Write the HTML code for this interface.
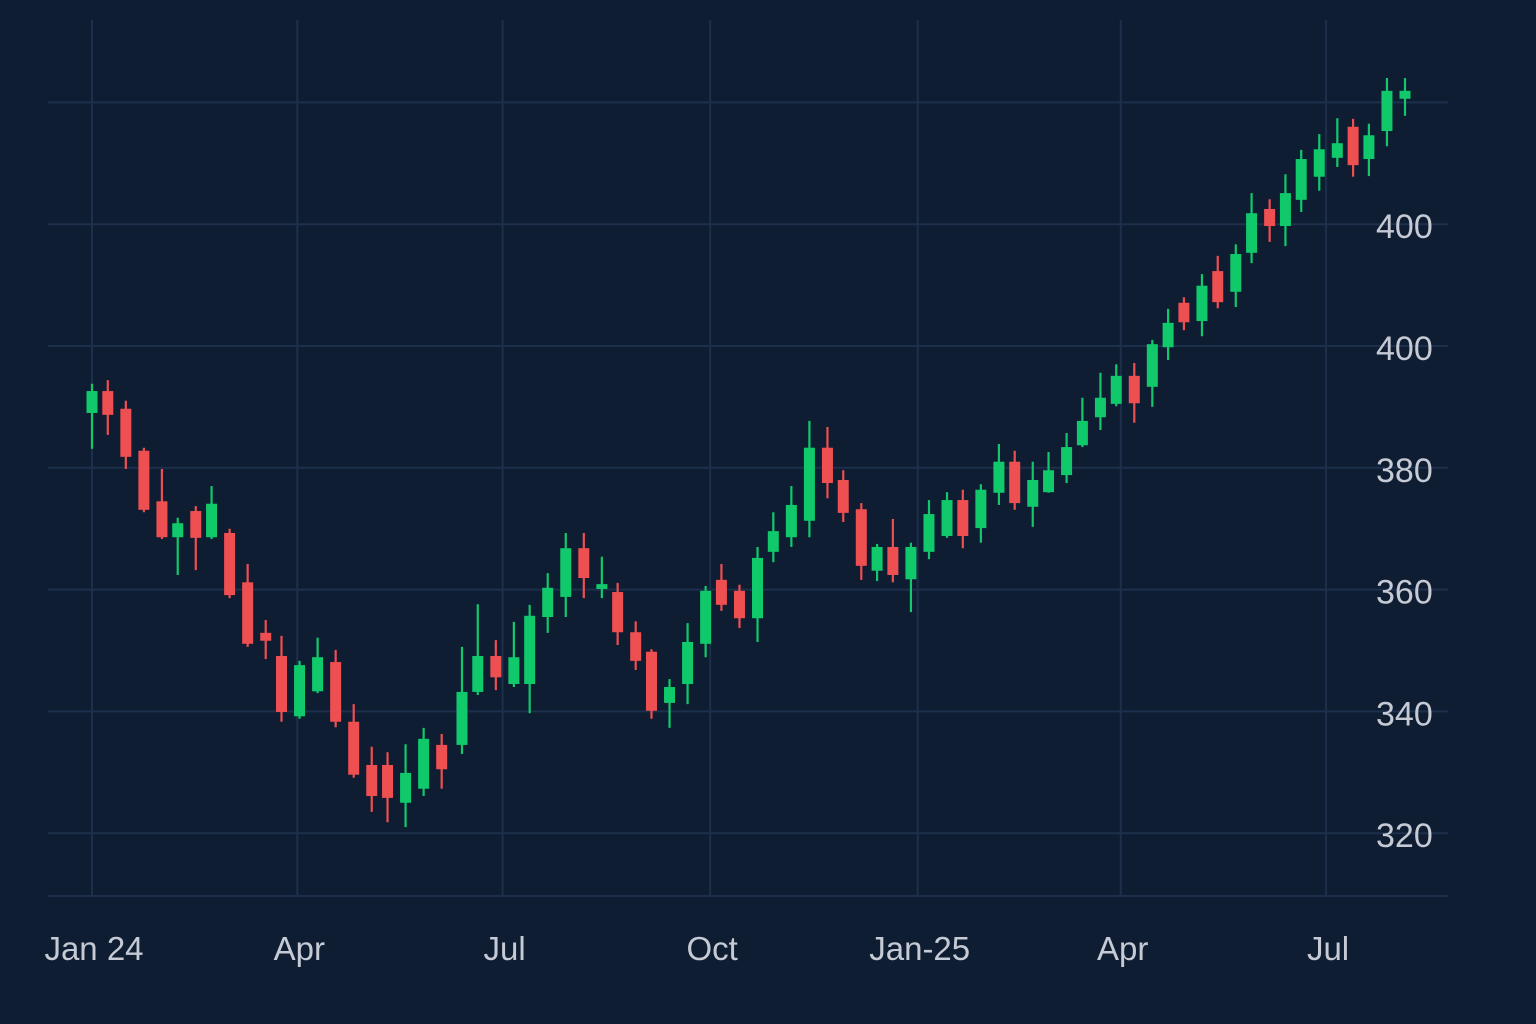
<!DOCTYPE html>
<html><head><meta charset="utf-8">
<style>
html,body{margin:0;padding:0;background:#0f1d33;}
svg{display:block;}
text{font-family:"Liberation Sans",sans-serif;}
</style></head>
<body>
<svg id="chart" width="1536" height="1024" viewBox="0 0 1536 1024" xmlns="http://www.w3.org/2000/svg">
<rect x="0" y="0" width="1536" height="1024" fill="#0f1d33"/>
<g id="grid"></g>
<g id="candles"></g>
<g id="yaxis"></g>
<g id="xaxis"></g>
</svg>
<script>
// Day offsets from 2024-01-01
const days=[0,7,15,23,31,38,46,53,61,69,77,84,92,100,108,116,124,131,139,147,155,164,171,179,187,194,202,210,218,226,233,241,248,256,264,272,279,287,295,302,310,318,326,333,341,348,355,363,371,379,386,394,402,409,417,424,432,439,447,454,462,470,477,484,492,499,507,514,522,529,536,544,552,559,566,574,582];
const opens=[389.0,392.6,389.7,382.8,374.5,368.6,372.9,368.6,369.3,361.2,352.9,349.1,339.2,343.3,348.1,338.3,331.2,331.2,325.0,327.3,334.5,334.5,343.2,349.1,344.5,344.5,355.5,358.8,366.8,360.1,359.6,353.0,349.8,341.4,344.5,351.1,361.6,359.8,355.3,366.2,368.6,371.3,383.3,378.0,373.2,363.1,367.0,361.7,366.2,368.8,374.7,370.1,375.9,381.0,373.6,376.0,378.8,383.7,388.3,390.5,395.1,393.3,399.8,407.1,404.1,412.3,408.9,415.3,422.5,419.7,424.0,427.8,430.9,436.0,430.7,435.3,440.6];
const highs=[393.8,394.4,391.0,383.3,379.8,371.8,373.7,377.0,370.0,364.2,355.0,352.4,348.3,352.1,350.1,341.2,334.2,333.3,334.6,337.3,336.3,350.6,357.6,351.7,354.7,357.5,362.7,369.3,369.3,365.4,361.1,354.8,350.2,345.3,354.5,360.6,364.2,360.8,367.0,372.7,377.0,387.7,386.7,379.6,374.2,367.5,371.6,367.7,374.7,376.0,376.4,377.3,383.9,382.8,381.0,382.6,385.7,391.5,395.6,397.0,397.2,401.0,406.1,408.0,411.8,414.8,416.7,425.1,424.1,428.2,432.2,434.8,437.4,437.3,436.5,444.0,444.0];
const lows=[383.1,385.4,379.8,372.7,368.3,362.4,363.2,368.3,358.6,350.6,348.6,338.3,338.8,343.0,337.4,329.1,323.5,321.8,321.0,326.1,327.3,333.0,342.7,343.5,344.0,339.7,352.9,355.5,358.6,358.6,350.9,346.8,338.8,337.3,341.2,348.9,356.5,353.7,351.4,364.5,367.0,368.6,375.0,371.1,361.6,361.4,361.2,356.3,365.0,368.5,366.8,367.7,373.9,373.1,370.3,375.9,377.5,383.4,386.2,390.1,387.4,390.0,397.7,402.6,401.6,406.2,406.4,413.6,417.1,416.4,422.0,425.5,429.4,427.8,427.9,432.8,437.8];
const closes=[392.6,388.7,381.8,373.1,368.6,370.9,368.5,374.1,359.1,351.1,351.6,339.9,347.6,348.9,338.3,329.6,326.1,325.8,329.9,335.5,330.5,343.2,349.1,345.6,348.9,355.7,360.3,366.8,361.9,360.9,353.0,348.3,340.1,344.0,351.4,359.8,357.5,355.3,365.2,369.6,373.9,383.3,377.5,372.6,363.9,367.0,362.4,367.0,372.4,374.7,368.8,376.4,381.0,374.2,378.0,379.6,383.4,387.7,391.5,395.1,390.6,400.3,403.8,403.9,409.9,407.2,415.1,421.8,419.7,425.1,430.7,432.3,433.3,429.7,434.6,441.9,441.9];
const yTickValues=[420,400,380,360,340,320];
const yTickLabels=["400","400","380","360","340","320"];
const yGridValues=[440,420,400,380,360,340,320];
const xTickDays=[0,91,182,274,366,456,547];
const xTickLabels=["Jan 24","Apr","Jul","Oct","Jan-25","Apr","Jul"];

const NS="http://www.w3.org/2000/svg";
function xScale(d){return 92+d*2.256;}
function yScale(v){return 346-(v-400)*6.09;}
function mk(tag,attrs,parent){const e=document.createElementNS(NS,tag);for(const k in attrs)e.setAttribute(k,attrs[k]);parent.appendChild(e);return e;}

const grid=document.getElementById('grid');
yGridValues.forEach(v=>{
  const l=mk('line',{x1:48,x2:1448,y1:yScale(v),y2:yScale(v),stroke:'#1c2f4b','stroke-width':2},grid);
  
  
});
const base=mk('line',{x1:48,x2:1448,y1:896,y2:896,stroke:'#1c2f4b','stroke-width':2},grid);


xTickDays.forEach(d=>{
  const l=mk('line',{x1:xScale(d),x2:xScale(d),y1:20,y2:896,stroke:'#1c2f4b','stroke-width':2},grid);
  
  
});

const cg=document.getElementById('candles');
days.forEach((d,i)=>{
  const up=closes[i]>=opens[i];
  const col=up?'#10c96b':'#ee4f51';
  const x=xScale(d);
  const g=mk('g',{},cg);
  
  
  const w=mk('line',{x1:x,x2:x,y1:yScale(highs[i]),y2:yScale(lows[i]),stroke:col,'stroke-width':2.2},g);
  
  
  const top=yScale(Math.max(opens[i],closes[i])),bot=yScale(Math.min(opens[i],closes[i]));
  const b=mk('rect',{x:x-5.5,y:top,width:11,height:Math.max(2,bot-top),fill:col},g);
  
  
});

const ya=document.getElementById('yaxis');
yTickValues.forEach((v,i)=>{
  const t=mk('text',{x:1376,y:yScale(v)+14,'font-size':34,fill:'#c5cad4'},ya);
  t.textContent=yTickLabels[i];
  
  
});
const xa=document.getElementById('xaxis');
xTickDays.forEach((d,i)=>{
  const t=mk('text',{x:xScale(d)+2,y:960,'font-size':33,fill:'#c5cad4','text-anchor':'middle'},xa);
  t.textContent=xTickLabels[i];
  
  
});
</script>
</body></html>
